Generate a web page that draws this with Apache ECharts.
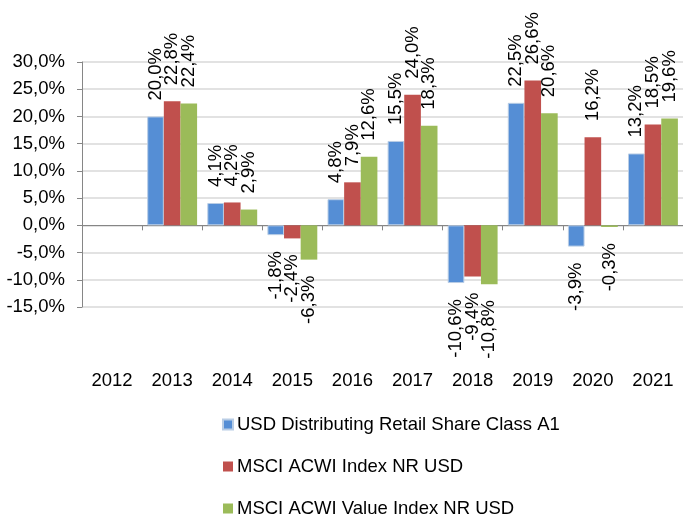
<!DOCTYPE html>
<html>
<head>
<meta charset="utf-8">
<script src="https://cdn.jsdelivr.net/npm/echarts@6/dist/echarts.min.js"></script>
<style>
html,body{margin:0;padding:0;background:#fff;}
#chart{width:683px;height:519px;}
</style>
</head>
<body>
<div id="chart"></div>
<script>
const categories = ['2012','2013','2014','2015','2016','2017','2018','2019','2020','2021'];
const seriesNames = ['USD Distributing Retail Share Class A1','MSCI ACWI Index NR USD','MSCI ACWI Value Index NR USD'];
const fundValues = [null, 20.0, 4.1, -1.8, 4.8, 15.5, -10.6, 22.5, -3.9, 13.2];
const acwiValues = [null, 22.8, 4.2, -2.4, 7.9, 24.0, -9.4, 26.6, 16.2, 18.5];
const valueValues = [null, 22.4, 2.9, -6.3, 12.6, 18.3, -10.8, 20.6, -0.3, 19.6];
const colors = ['#558ED5', '#C0504D', '#9BBB59'];
const borderColors = ['#B9CDE5', '#C0504D', '#9BBB59'];

const FONT = 'Liberation Sans, Arial, sans-serif';
const FS = 18.5;
const fmt = v => v.toFixed(1).replace('.', ',') + '%';

function buildData(arr) {
  return arr.map(v => {
    if (v === null) return null;
    const neg = v < 0;
    return {
      value: v,
      label: {
        position: neg ? 'bottom' : 'top',
        align: neg ? 'right' : 'left'
      }
    };
  });
}

const allSeries = [fundValues, acwiValues, valueValues].map((arr, i) => ({
  name: seriesNames[i],
  type: 'bar',
  xAxisIndex: 0,
  data: buildData(arr),
  barGap: '0%',
  barCategoryGap: '17%',
  itemStyle: { color: colors[i], borderColor: borderColors[i], borderWidth: i === 0 ? 1 : 0 },
  label: {
    show: true,
    rotate: 90,
    distance: 16,
    verticalAlign: 'middle',
    fontFamily: FONT,
    fontSize: FS,
    color: '#000',
    formatter: p => fmt(p.value)
  },
  animation: false
}));

const chart = echarts.init(document.getElementById('chart'), null, { renderer: 'canvas' });
chart.setOption({
  animation: false,
  backgroundColor: '#fff',
  grid: { left: 82, right: -6, top: 62, bottom: 212 },
  legend: {
    orient: 'vertical',
    left: 222,
    top: 415,
    height: 110,
    padding: 0,
    itemWidth: 10,
    itemHeight: 10,
    itemGap: 23,
    icon: 'rect',
    textStyle: { fontFamily: FONT, fontSize: FS, color: '#000', padding: [0,0,0,-1] },
    data: seriesNames
  },
  xAxis: [
    {
      type: 'category',
      data: categories,
      axisLine: { onZero: true, lineStyle: { color: '#868686', width: 1 } },
      axisTick: { show: true, length: 5, lineStyle: { color: '#868686' } },
      axisLabel: { show: false },
      splitLine: { show: false }
    },
    {
      type: 'category',
      data: categories,
      position: 'bottom',
      offset: 56,
      axisLine: { show: false, onZero: false },
      axisTick: { show: false },
      axisLabel: { show: true, margin: 8, fontFamily: FONT, fontSize: FS, color: '#000' },
      splitLine: { show: false }
    }
  ],
  yAxis: {
    type: 'value',
    min: -15,
    max: 30,
    interval: 5,
    axisLine: { show: true, lineStyle: { color: '#868686', width: 1 } },
    axisTick: { show: true, length: 5, lineStyle: { color: '#868686' } },
    axisLabel: { margin: 17, fontFamily: FONT, fontSize: FS, color: '#000', formatter: v => fmt(v) },
    splitLine: { show: true, lineStyle: { color: '#d9d9d9', width: 1.5 } }
  },
  series: allSeries
});
</script>
</body>
</html>
